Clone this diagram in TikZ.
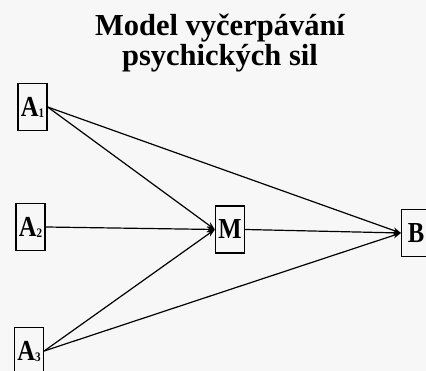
\documentclass[tikz,border=0pt]{standalone}
\usepackage{fontspec}
\setmainfont{Liberation Serif}
\newfontfamily\blokfont[FakeStretch=0.85]{Liberation Serif}
\newcommand{\idx}[1]{\raisebox{-1pt}{\fontsize{13}{13}\selectfont #1}}
\usetikzlibrary{arrows.meta}

\begin{document}
\begin{tikzpicture}[x=1pt, y=1pt,
    blok/.style={draw, line width=1.3pt, minimum width=29pt, minimum height=47pt,
        inner sep=0pt, font=\blokfont\bfseries\fontsize{29}{29}\selectfont},
    sipka/.style={line width=1.2pt, -{Stealth[length=8pt, width=6pt]}}]
    \useasboundingbox (0,0) rectangle (426,371);
    \fill[black!3] (0,0) rectangle (426,371);
    \clip (0,0) rectangle (426,371);
    % nadpis
    \node[align=center, font=\bfseries\fontsize{30.5}{30}\selectfont] (nadpis) at (220,328)
        {Model vyčerpávání\\psychických sil};
    % bloky
    \node[blok] (A1) at (32.5,264) {A\idx{1}};
    \node[blok] (A2) at (30.5,144) {A\idx{2}};
    \node[blok] (A3) at (29,20) {A\idx{3}};
    \node[blok] (M) at (230,141.5) {M};
    \node[blok] (B) at (416,138) {B};
    % sipky
    \draw[sipka] (A1.east) -- (M.west);
    \draw[sipka] (A2.east) -- (M.west);
    \draw[sipka] (A3.east) -- (M.west);
    \draw[sipka] (A1.east) -- (B.west);
    \draw[sipka] (A3.east) -- (B.west);
    \draw[sipka] (M.east) -- (B.west);
\end{tikzpicture}
\end{document}
